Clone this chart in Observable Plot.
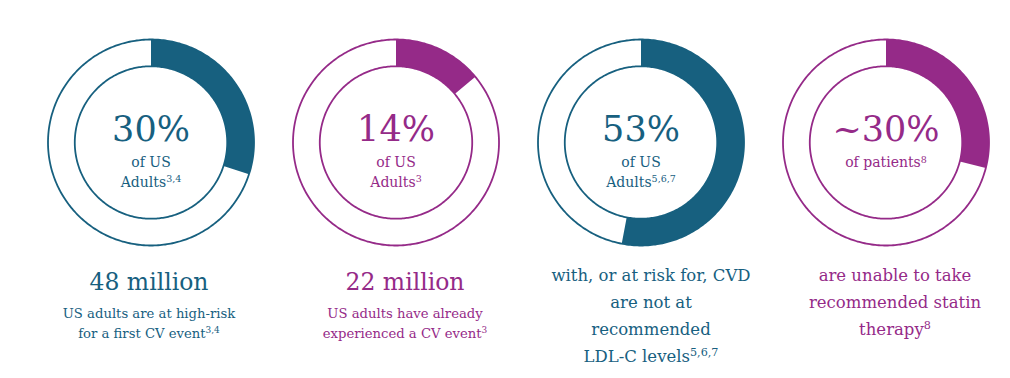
<!DOCTYPE html>
<html><head><meta charset="utf-8">
<script src="https://cdn.jsdelivr.net/npm/d3@7"></script>
<script src="https://cdn.jsdelivr.net/npm/@observablehq/plot@0.6"></script>
<style>body{margin:0;background:#fff} #chart{width:1010px;height:378px}</style>
</head><body><div id="chart"></div>
<script>
// ---- data ----
const categories = ["high-risk", "experienced", "not-at-goal", "statin-unable"];
const shares = [30, 14, 53, 29];
const bigLabels = ["30%", "14%", "53%", "~30%"];
const centerNotes = ["of US\nAdults^3,4", "of US\nAdults^3", "of US\nAdults^5,6,7", "of patients^8"];
const headlines = ["48 million", "22 million", "", ""];
const descriptions = [
  "US adults are at high-risk\nfor a first CV event^3,4",
  "US adults have already\nexperienced a CV event^3",
  "with, or at risk for, CVD\nare not at\nrecommended\nLDL-C levels^5,6,7",
  "are unable to take\nrecommended statin\ntherapy^8"
];
const palette = ["#17607f", "#952a88", "#17607f", "#952a88"];

// ---- layout ----
const W = 1010, H = 378, ML = 27.5, MR = 2.5;
const R = 103;          // outer radius in px
const CY = 142;         // donut centre in px from top
const INNER = 0.74;     // inner radius relative to outer
const textShift = [-2, 9, 10, 9];
const bandW = (W - ML - MR) / categories.length;

const rad = a => a * Math.PI / 180;
const ringPts = [];
categories.forEach((c, i) => {
  for (const [ring, r] of [["o", 1], ["i", INNER]]) {
    for (let a = 0; a <= 360; a += 1) {
      ringPts.push({cat: c, key: c + ring, x: r * Math.sin(rad(a)), y: r * Math.cos(rad(a)), color: palette[i]});
    }
  }
});
const arcPts = [];
categories.forEach((c, i) => {
  const end = shares[i] / 100 * 360;
  const n = Math.max(2, Math.ceil(end));
  for (let k = 0; k <= n; k++) { const a = end * k / n; arcPts.push({cat: c, x: Math.sin(rad(a)), y: Math.cos(rad(a)), color: palette[i]}); }
  for (let k = n; k >= 0; k--) { const a = end * k / n; arcPts.push({cat: c, x: INNER * Math.sin(rad(a)), y: INNER * Math.cos(rad(a)), color: palette[i]}); }
});
const rows = categories.map((c, i) => ({cat: c, big: bigLabels[i], note: centerNotes[i], head: headlines[i], desc: descriptions[i], color: palette[i], i}));

const bodyMarks = rows.flatMap(r => {
  const small = r.i < 2;
  return [
    Plot.text([r], {fx: "cat", text: "head", fill: "color", frameAnchor: "top", lineAnchor: "bottom", dy: 289, dx: textShift[r.i], fontSize: 23.5}),
    Plot.text([r], {fx: "cat", text: "desc", fill: "color", frameAnchor: "top", lineAnchor: "top",
      dy: small ? 318 - 0.71 * 20 : 281 - 0.71 * 27, dx: textShift[r.i],
      fontSize: small ? 13.2 : 16.5, lineHeight: small ? 20 / 13.2 : 27 / 16.5})
  ];
});

const chart = Plot.plot({
  width: W, height: H, marginLeft: ML, marginRight: MR, marginTop: 0, marginBottom: 0,
  style: {fontFamily: "DejaVu Serif", background: "white"},
  fx: {domain: categories, padding: 0, axis: null},
  x: {domain: [-bandW / 2 / R, bandW / 2 / R], axis: null},
  y: {domain: [(CY - H) / R, CY / R], axis: null},
  color: {type: "identity"},
  marks: [
    Plot.line(arcPts, {fx: "cat", x: "x", y: "y", z: "cat", fill: "color", stroke: "none", curve: "linear-closed"}),
    Plot.line(ringPts, {fx: "cat", x: "x", y: "y", z: "key", stroke: "color", strokeWidth: 1.8}),
    Plot.text(rows, {fx: "cat", text: "big", fill: "color", frameAnchor: "top", lineAnchor: "bottom", dy: 140, fontSize: 35}),
    Plot.text(rows, {fx: "cat", text: "note", fill: "color", frameAnchor: "top", lineAnchor: "top", dy: 167 - 0.71 * 20, fontSize: 14, lineHeight: 20 / 14}),
    ...bodyMarks
  ]
});

// superscripts
chart.querySelectorAll("text, tspan").forEach(el => {
  if (el.childNodes.length === 1 && el.firstChild.nodeType === 3 && el.textContent.includes("^")) {
    const [main, sup] = el.textContent.split("^");
    el.textContent = main;
    const t = document.createElementNS("http://www.w3.org/2000/svg", "tspan");
    t.setAttribute("font-size", "0.68em");
    t.setAttribute("baseline-shift", "super");
    t.textContent = sup;
    el.appendChild(t);
  }
});
document.getElementById("chart").appendChild(chart);
</script>
</body></html>
